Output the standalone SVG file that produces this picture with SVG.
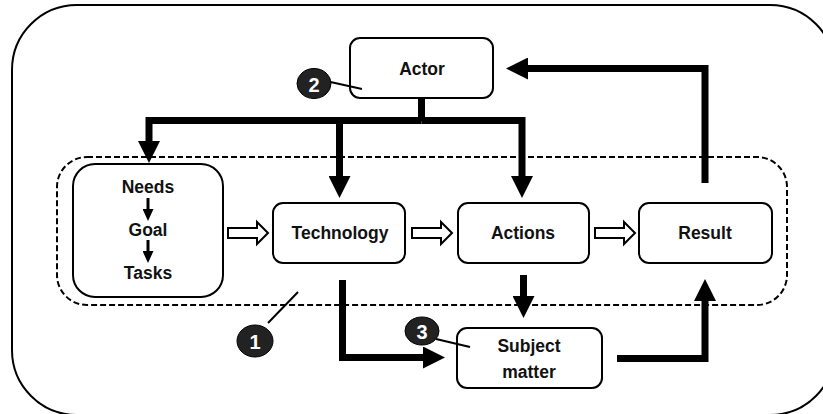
<svg xmlns="http://www.w3.org/2000/svg" width="823" height="414" viewBox="0 0 823 414">
  <defs>
    <style>
      .frame { fill: none; stroke: #000; stroke-width: 2; }
      .zone { fill: none; stroke: #000; stroke-width: 2; stroke-dasharray: 6 3; }
      .box { fill: #fff; stroke: #000; stroke-width: 2; }
      .label { font-family: "Liberation Sans", Arial, sans-serif; font-weight: bold; font-size: 17.5px; fill: #111; text-anchor: middle; dominant-baseline: central; }
      .flow { fill: none; stroke: #000; stroke-width: 7; stroke-linejoin: miter; stroke-linecap: butt; }
      .thin { fill: none; stroke: #000; stroke-width: 3; }
      .hollow { fill: #fff; stroke: #000; stroke-width: 2; stroke-linejoin: miter; }
      .badge { fill: #222; stroke: #000; stroke-width: 1; }
      .badge-num { font-family: "Liberation Sans", Arial, sans-serif; font-weight: bold; font-size: 20px; fill: #fff; text-anchor: middle; dominant-baseline: central; }
      .leader { stroke: #000; stroke-width: 2; }
    </style>
    <marker id="head" markerUnits="userSpaceOnUse" markerWidth="22" markerHeight="22" viewBox="0 0 22 22" refX="0" refY="11" orient="auto">
      <path d="M0,0 L22,11 L0,22 z" fill="#000"/>
    </marker>
    <marker id="smallhead" markerUnits="userSpaceOnUse" markerWidth="12" markerHeight="11" viewBox="0 0 12 11" refX="0" refY="5.5" orient="auto">
      <path d="M0,0 L12,5.5 L0,11 z" fill="#000"/>
    </marker>
    <path id="blockarrow" d="M0,-5 H29 V-11 L40,0 L29,11 V5 H0 z"/>
  </defs>

  <!-- outer frame and activity zone -->
  <rect class="frame" x="12" y="5" width="823" height="410" rx="65"/>
  <rect class="zone" x="57" y="157" width="730" height="148" rx="30"/>

  <g id="connectors">
    <!-- actor feeds needs, technology and actions -->
    <path class="flow" d="M421.5,98 V121"/>
    <path class="flow" d="M421.5,120.5 H149 V141" marker-end="url(#head)"/>
    <path class="flow" d="M421.5,120.5 H522 V176" marker-end="url(#head)"/>
    <path class="flow" d="M339.5,120.5 V176" marker-end="url(#head)"/>
    <!-- result back to actor -->
    <path class="flow" d="M705,183 V68.5 H528" marker-end="url(#head)"/>
    <!-- technology and actions to subject matter -->
    <path class="flow" d="M342.5,280 V357.5 H423" marker-end="url(#head)"/>
    <path class="flow" d="M523.5,275 V296" marker-end="url(#head)"/>
    <!-- subject matter to result -->
    <path class="flow" d="M617,358.5 H705 V301" marker-end="url(#head)"/>
    <!-- hollow sequence arrows -->
    <use href="#blockarrow" class="hollow" x="228" y="233"/>
    <use href="#blockarrow" class="hollow" x="412" y="233"/>
    <use href="#blockarrow" class="hollow" x="595" y="233"/>
  </g>

  <g id="actor">
    <rect class="box" x="350" y="38" width="143" height="60" rx="10"/>
    <text class="label" x="422" y="69">Actor</text>
  </g>

  <g id="needs">
    <rect class="box" x="73" y="164" width="150" height="133" rx="22"/>
    <text class="label" x="148" y="187">Needs</text>
    <text class="label" x="148" y="230">Goal</text>
    <text class="label" x="148" y="273">Tasks</text>
    <path class="thin" d="M148,198 V209" marker-end="url(#smallhead)"/>
    <path class="thin" d="M148,240 V251" marker-end="url(#smallhead)"/>
  </g>

  <g id="technology">
    <rect class="box" x="273" y="203" width="132" height="60" rx="10"/>
    <text class="label" x="340" y="233">Technology</text>
  </g>

  <g id="actions">
    <rect class="box" x="458" y="203" width="131" height="60" rx="10"/>
    <text class="label" x="523" y="233">Actions</text>
  </g>

  <g id="result">
    <rect class="box" x="639" y="203" width="133" height="60" rx="10"/>
    <text class="label" x="705" y="233">Result</text>
  </g>

  <g id="subject-matter">
    <rect class="box" x="457" y="328" width="145" height="60" rx="10"/>
    <text class="label" x="529" y="346">Subject</text>
    <text class="label" x="529" y="372">matter</text>
  </g>

  <g id="badge-1">
    <line class="leader" x1="268" y1="323" x2="298" y2="292"/>
    <ellipse class="badge" cx="255" cy="341" rx="18" ry="16"/>
    <text class="badge-num" x="255" y="342">1</text>
  </g>

  <g id="badge-2">
    <line class="leader" x1="326" y1="81" x2="362" y2="89"/>
    <ellipse class="badge" cx="314" cy="83.5" rx="17" ry="15"/>
    <text class="badge-num" x="314" y="84.5">2</text>
  </g>

  <g id="badge-3">
    <line class="leader" x1="436" y1="339" x2="470" y2="347"/>
    <ellipse class="badge" cx="422" cy="331" rx="17" ry="14"/>
    <text class="badge-num" x="422" y="332">3</text>
  </g>
</svg>
